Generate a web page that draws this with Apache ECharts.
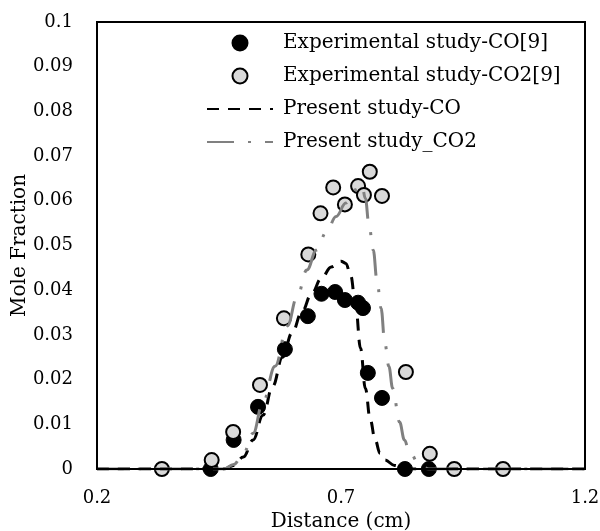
<!DOCTYPE html>
<html><head><meta charset="utf-8">
<script src="https://cdn.jsdelivr.net/npm/echarts@6/dist/echarts.min.js"></script>
<style>html,body{margin:0;padding:0;background:#fff}#c{width:600px;height:531px}</style>
</head><body><div id="c"></div>
<script>
// Experimental study-CO[9]
const coExpX = [0.433, 0.48, 0.53, 0.585, 0.632, 0.66, 0.688, 0.708, 0.735, 0.745, 0.755, 0.784, 0.831, 0.88];
const coExpY = [0, 0.0065, 0.0139, 0.0268, 0.0342, 0.0392, 0.0396, 0.0378, 0.0372, 0.036, 0.0215, 0.0159, 0, 0];
// Experimental study-CO2[9]
const co2ExpX = [0.333, 0.435, 0.479, 0.534, 0.583, 0.633, 0.658, 0.684, 0.708, 0.735, 0.747, 0.759, 0.784, 0.833, 0.882, 0.932, 1.032];
const co2ExpY = [0, 0.002, 0.0083, 0.0188, 0.0337, 0.048, 0.0572, 0.063, 0.0592, 0.0633, 0.0613, 0.0665, 0.0611, 0.0217, 0.0034, 0, 0];
// Present study-CO
const coSimX = [0.2, 0.3, 0.4, 0.46, 0.48, 0.5, 0.52, 0.54, 0.56, 0.58, 0.6, 0.62, 0.64, 0.66, 0.68, 0.7, 0.71, 0.72, 0.73, 0.74, 0.75, 0.76, 0.77, 0.78, 0.79, 0.81, 0.83, 0.9, 1.0, 1.2];
const coSimY = [0, 0, 0, 0, 0.0008, 0.0027, 0.0065, 0.012, 0.0185, 0.025, 0.0305, 0.0352, 0.0393, 0.0427, 0.0452, 0.0465, 0.046, 0.0432, 0.0365, 0.027, 0.018, 0.011, 0.0065, 0.0035, 0.002, 0.0008, 0, 0, 0, 0];
// Present study_CO2
const co2SimX = [0.2, 0.4, 0.46, 0.48, 0.5, 0.52, 0.54, 0.565, 0.59, 0.61, 0.63, 0.65, 0.67, 0.69, 0.71, 0.73, 0.743, 0.75, 0.757, 0.766, 0.774, 0.782, 0.79, 0.798, 0.806, 0.82, 0.83, 0.84, 0.86, 0.88, 1.0, 1.2];
const co2SimY = [0, 0, 0, 0.001, 0.0035, 0.008, 0.015, 0.023, 0.032, 0.0385, 0.0445, 0.049, 0.053, 0.0565, 0.0595, 0.0625, 0.0635, 0.0605, 0.055, 0.049, 0.042, 0.036, 0.028, 0.023, 0.018, 0.0105, 0.0065, 0.0038, 0.0012, 0, 0, 0];
const xTicks = [0.2, 0.7, 1.2];
const names = ['Experimental study-CO[9]', 'Experimental study-CO2[9]', 'Present study-CO', 'Present study_CO2'];

const zip = (xs, ys) => xs.map((x, i) => [x, ys[i]]);
const FONT = 'DejaVu Serif';
const frameAxis = () => ({ show: true, onZero: false, lineStyle: { color: '#000000', width: 2, opacity: 1 } });
const chart = echarts.init(document.getElementById('c'));
chart.setOption({
  animation: false,
  backgroundColor: '#fff',
  grid: { left: 97, right: 15, top: 22, bottom: 62, outerBoundsMode: 'none', containLabel: false,
          show: true, borderColor: '#000000', borderWidth: 2, backgroundColor: 'rgba(0,0,0,0)', z: 10 },
  legend: {
    orient: 'vertical', left: 201, top: 26, itemWidth: 66, itemHeight: 15, itemGap: 9,
    textStyle: { fontFamily: FONT, fontSize: 20, color: '#000', lineHeight: 24, padding: [0, 0, 0, 5] },
    data: [
      { name: names[0] },
      { name: names[1] },
      { name: names[2], itemStyle: { color: 'rgba(0,0,0,0)', borderColor: 'rgba(0,0,0,0)', borderWidth: 0 } },
      { name: names[3], itemStyle: { color: 'rgba(0,0,0,0)', borderColor: 'rgba(0,0,0,0)', borderWidth: 0 } }
    ]
  },
  xAxis: [{
    type: 'value', min: 0.2, max: 1.2, position: 'bottom',
    name: 'Distance (cm)', nameLocation: 'middle', nameGap: 43, nameMoveOverlap: false,
    nameTextStyle: { fontFamily: FONT, fontSize: 20, color: '#000' },
    axisLine: frameAxis(),
    axisTick: { show: false },
    splitLine: { show: false },
    axisLabel: { customValues: xTicks, fontFamily: FONT, fontSize: 18, color: '#000', margin: 20, formatter: v => String(+v.toFixed(2)) }
  }, {
    type: 'value', min: 0.2, max: 1.2, position: 'top',
    axisLine: frameAxis(), axisTick: { show: false }, splitLine: { show: false }, axisLabel: { show: false }
  }],
  yAxis: [{
    type: 'value', min: 0, max: 0.1, interval: 0.01, position: 'left',
    name: 'Mole Fraction', nameLocation: 'middle', nameGap: 67, nameRotate: 90, nameMoveOverlap: false,
    nameTextStyle: { fontFamily: FONT, fontSize: 20, color: '#000' },
    axisLine: frameAxis(),
    axisTick: { show: false },
    splitLine: { show: false },
    axisLabel: { fontFamily: FONT, fontSize: 18, color: '#000', margin: 24, formatter: v => String(+v.toFixed(2)) }
  }, {
    type: 'value', min: 0, max: 0.1, position: 'right',
    axisLine: frameAxis(), axisTick: { show: false }, splitLine: { show: false }, axisLabel: { show: false }
  }],
  series: [
    { name: names[0], type: 'scatter', data: zip(coExpX, coExpY), symbol: 'circle', symbolSize: 15,
      itemStyle: { color: '#000', borderColor: '#000', borderWidth: 1, opacity: 1 } },
    { name: names[1], type: 'scatter', data: zip(co2ExpX, co2ExpY), symbol: 'circle', symbolSize: 14,
      itemStyle: { color: '#d9d9d9', borderColor: '#000', borderWidth: 2, opacity: 1 } },
    { name: names[2], type: 'line', data: zip(coSimX, coSimY), smooth: 0.4, smoothMonotone: 'x', symbol: 'none', showSymbol: false,
      lineStyle: { color: '#000', width: 3, type: [12, 9] }, itemStyle: { color: '#000' } },
    { name: names[3], type: 'line', data: zip(co2SimX, co2SimY), smooth: 0.4, smoothMonotone: 'x', symbol: 'none', showSymbol: false,
      lineStyle: { color: '#808080', width: 3, type: [27, 14, 3, 14] }, itemStyle: { color: '#808080' } }
  ]
});
</script>
</body></html>
